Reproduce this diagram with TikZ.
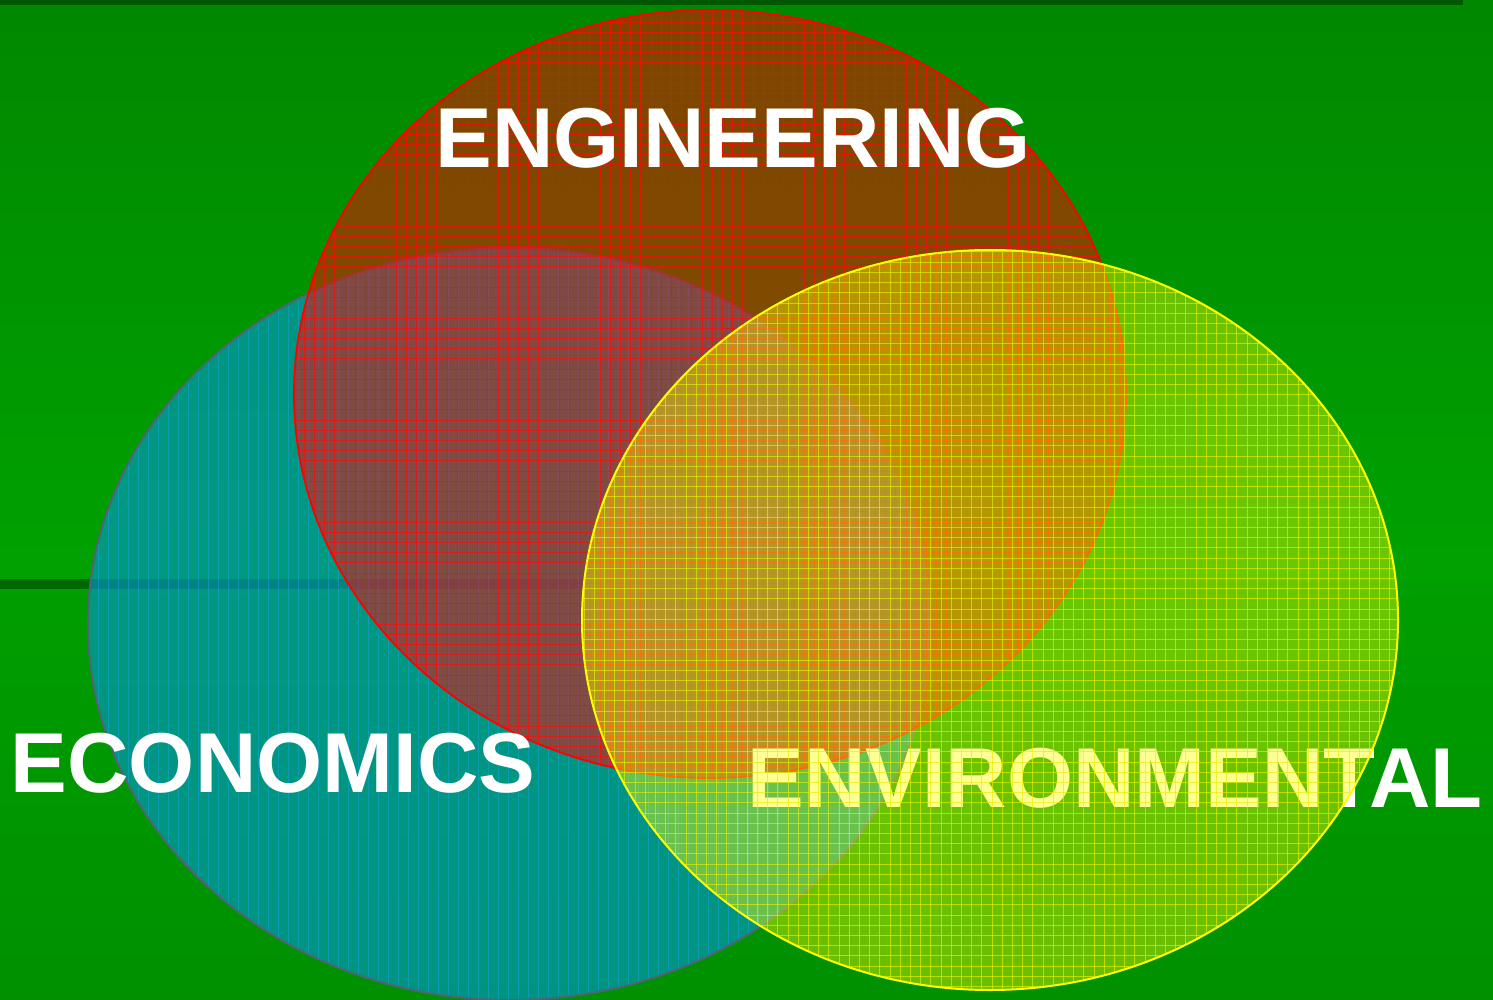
\documentclass[tikz,border=0pt]{standalone}
\usepackage{fontspec}
\setmainfont{Liberation Sans}
\definecolor{bgtop}{RGB}{0,136,0}
\definecolor{bgmid}{RGB}{0,162,0}
\definecolor{bglowa}{RGB}{0,158,0}
\definecolor{bglowb}{RGB}{0,144,0}
\definecolor{topbar}{RGB}{0,88,0}
\definecolor{band}{RGB}{0,104,0}
\definecolor{econfill}{RGB}{0,150,215}
\definecolor{econline}{RGB}{24,160,222}
\definecolor{econedge}{RGB}{80,100,120}
\definecolor{engfill}{RGB}{255,0,0}
\definecolor{engline}{RGB}{255,10,10}
\definecolor{envfill}{RGB}{255,255,0}
\definecolor{envline}{RGB}{228,240,0}
\begin{document}
\begin{tikzpicture}[x=1pt,y=-1pt,
  title/.style={font=\fontsize{85}{100}\selectfont\bfseries, text=white, inner sep=0pt, anchor=base},
  gridline/.style={line width=1pt},
]
\useasboundingbox (0,0) rectangle (1493,1000);

% background panels
\shade[top color=bgtop, bottom color=bgmid] (0,0) rectangle (1493,580);
\shade[top color=bglowa, bottom color=bglowb] (0,580) rectangle (1493,1000);
\fill[topbar] (0,0) rectangle (1463,5);
\fill[band] (0,579) rectangle (586,589);

% economics circle
\fill[econfill, fill opacity=0.6] (510,624) ellipse [x radius=422pt, y radius=376pt];
\begin{scope}
  \clip (510,624) ellipse [x radius=422pt, y radius=376pt];
  \foreach \i in {0,...,85}
    \draw[econline, gridline, opacity=0.55] (88+10*\i,240) -- (88+10*\i,1010);
\end{scope}
\draw[econedge, line width=2pt] (510,624) ellipse [x radius=422pt, y radius=376pt];

% engineering circle
\fill[engfill, fill opacity=0.5] (710,394) ellipse [x radius=416pt, y radius=384pt];
\begin{scope}
  \clip (710,394) ellipse [x radius=416pt, y radius=384pt];
  \foreach \i in {0,...,82}
    \draw[engline, gridline, opacity=0.7] (294+10.2*\i,0) -- (294+10.2*\i,790);
  \foreach \j in {0,...,76}
    \draw[engline, gridline, opacity=0.7] (280,12+10.2*\j) -- (1140,12+10.2*\j);
\end{scope}
\draw[engfill, line width=1.8pt] (710,394) ellipse [x radius=416pt, y radius=384pt];

% labels
\node[title] (eng) at (733,168) {ENGINEERING};
\node[title] (eco) at (273,792) {ECONOMICS};
\node[title] (env) at (1115,807) {ENVIRONMENTAL};

% environmental circle, laid over its label
\fill[envfill, fill opacity=0.42] (990,620) ellipse [x radius=408pt, y radius=370pt];
\begin{scope}
  \clip (990,620) ellipse [x radius=408pt, y radius=370pt];
  \foreach \i in {0,...,80}
    \draw[envline, gridline, opacity=0.65] (584+10.2*\i,240) -- (584+10.2*\i,1000);
  \foreach \j in {0,...,73}
    \draw[envline, gridline, opacity=0.65] (570,252+10.2*\j) -- (1410,252+10.2*\j);
\end{scope}
\draw[envfill, line width=2pt] (990,620) ellipse [x radius=408pt, y radius=370pt];
\end{tikzpicture}
\end{document}
